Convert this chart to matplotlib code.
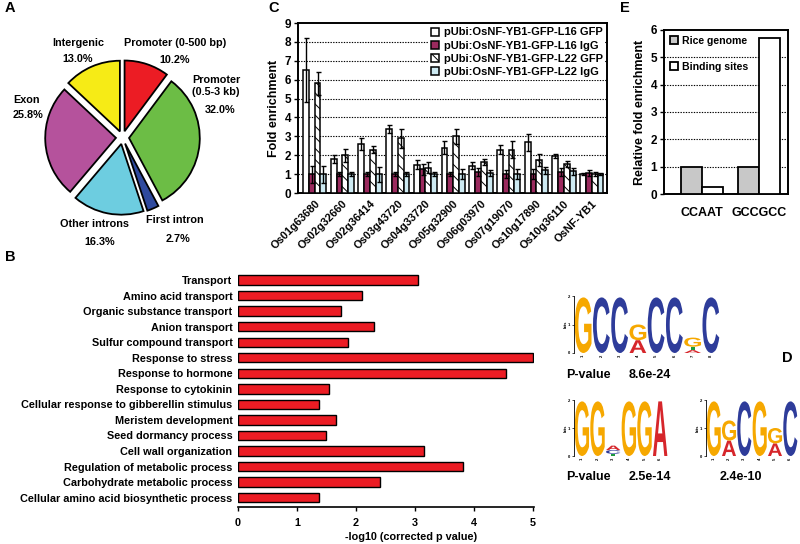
import matplotlib
matplotlib.use('Agg')
import matplotlib.pyplot as plt
import numpy as np
from matplotlib.textpath import TextPath
from matplotlib.patches import PathPatch
from matplotlib.font_manager import FontProperties
from matplotlib.transforms import Affine2D

plt.rcParams['font.family'] = ['Liberation Sans', 'DejaVu Sans']
plt.rcParams['font.weight'] = 'bold'
plt.rcParams['axes.labelweight'] = 'bold'
plt.rcParams['hatch.linewidth'] = 0.7

# ---------------- data ----------------
pie_labels = ['Promoter (0-500 bp)', 'Promoter\n(0.5-3 kb)', 'First intron',
              'Other introns', 'Exon', 'Intergenic']
pie_values = [10.2, 32.0, 2.7, 16.3, 25.8, 13.0]
pie_colors = ['#ec1c24', '#6cbd45', '#2f4a9e', '#6dcde0', '#b5529c', '#f6eb16']

go_terms = ['Transport', 'Amino acid transport', 'Organic substance transport',
            'Anion transport', 'Sulfur compound transport', 'Response to stress',
            'Response to hormone', 'Response to cytokinin',
            'Cellular response to gibberellin stimulus', 'Meristem development',
            'Seed dormancy process', 'Cell wall organization',
            'Regulation of metabolic process', 'Carbohydrate metabolic process',
            'Cellular amino acid biosynthetic process']
go_values = [3.05, 2.11, 1.75, 2.31, 1.86, 5.0, 4.54, 1.55, 1.37, 1.67, 1.5,
             3.15, 3.82, 2.4, 1.37]

genes = ['Os01g63680', 'Os02g32660', 'Os02g36414', 'Os03g43720', 'Os04g33720',
         'Os05g32900', 'Os06g03970', 'Os07g19070', 'Os10g17890', 'Os10g36110',
         'OsNF-YB1']
series_names = ['pUbi:OsNF-YB1-GFP-L16 GFP', 'pUbi:OsNF-YB1-GFP-L16 IgG',
                'pUbi:OsNF-YB1-GFP-L22 GFP', 'pUbi:OsNF-YB1-GFP-L22 IgG']
l16_gfp = [6.5, 1.8, 2.6, 3.4, 1.5, 2.4, 1.45, 2.3, 2.7, 1.95, 1.0]
l16_gfp_err = [1.7, 0.2, 0.3, 0.2, 0.25, 0.35, 0.2, 0.25, 0.45, 0.1, 0.05]
l16_igg = [1.0, 1.0, 1.0, 1.0, 1.25, 1.0, 1.1, 1.0, 1.0, 1.1, 1.05]
l16_igg_err = [0.45, 0.1, 0.1, 0.1, 0.3, 0.1, 0.2, 0.2, 0.25, 0.2, 0.15]
l22_gfp = [5.8, 2.0, 2.3, 2.9, 1.35, 3.0, 1.65, 2.3, 1.75, 1.55, 1.0]
l22_gfp_err = [0.6, 0.35, 0.2, 0.5, 0.3, 0.4, 0.15, 0.45, 0.3, 0.15, 0.1]
l22_igg = [1.0, 1.0, 1.0, 1.0, 1.0, 1.0, 1.05, 1.0, 1.2, 1.15, 1.0]
l22_igg_err = [0.45, 0.1, 0.4, 0.1, 0.1, 0.25, 0.15, 0.25, 0.2, 0.2, 0.05]

motif_labels = ['CCAAT', 'GCCGCC']
rice_genome = [1.0, 1.0]
binding_sites = [0.25, 5.7]

logo1 = [{'G': 1.95}, {'C': 1.95}, {'C': 1.95}, {'A': 0.45, 'G': 0.55},
         {'C': 1.95}, {'C': 1.95}, {'A': 0.1, 'T': 0.12, 'G': 0.32}, {'C': 1.95}]
logo2 = [{'G': 1.95}, {'G': 1.95}, {'T': 0.08, 'C': 0.13, 'A': 0.16},
         {'G': 1.95}, {'G': 1.95}, {'A': 1.95}]
logo3 = [{'G': 1.95}, {'A': 0.55, 'G': 0.72}, {'C': 1.95}, {'G': 1.95},
         {'A': 0.45, 'G': 0.55}, {'C': 1.95}]
pvalues = ['8.6e-24', '2.5e-14', '2.4e-10']

# ---------------- helpers ----------------
W, H = 800, 544
fig = plt.figure(figsize=(W / 100, H / 100), dpi=100)


def rect(x0, y0, x1, y1):
    return [x0 / W, 1 - y1 / H, (x1 - x0) / W, (y1 - y0) / H]


def ftext(x, y, s, **kw):
    fig.text(x / W, 1 - y / H, s, **kw)


BOLD = dict(fontweight='bold')

# panel letters
for lab, (x, y) in zip('ABCDE', [(5, 8), (5, 257), (268, 8), (793, 358), (620, 8)]):
    ftext(x, y, lab, fontsize=10.5, ha='left' if lab != 'D' else 'right',
          va='center', **BOLD)

# ---------------- A: pie ----------------
axA = fig.add_axes(rect(35, 50, 210, 225))
axA.pie(pie_values, colors=pie_colors, startangle=90, counterclock=False,
        explode=[0.09] * len(pie_values), radius=0.97,
        wedgeprops=dict(edgecolor='black', linewidth=1.3))
axA.set_xlim(-1.2, 1.2)
axA.set_ylim(-1.2, 1.2)
axA.set_aspect('equal')
axA.axis('off')

pie_text_pos = [(175, 43, 175, 60), (216, 86, 220, 110), (175, 220, 178, 239),
                (95, 224, 100, 242), (27, 100, 28, 115), (78, 43, 78, 59)]
for lab, val, (lx, ly, vx, vy) in zip(pie_labels, pie_values, pie_text_pos):
    ftext(lx, ly, lab, fontsize=7.8, ha='center', va='center', linespacing=1.15, **BOLD)
    ftext(vx, vy, f'{val:.1f}%', fontsize=7.8, ha='center', va='center', **BOLD)

# ---------------- B: GO barh ----------------
axB = fig.add_axes(rect(238, 271.5, 534, 507))
yB = np.arange(len(go_terms))
axB.barh(yB, go_values, height=0.6, color='#ec1c24', edgecolor='black', linewidth=1.0)
axB.set_ylim(len(go_terms) - 0.4, -0.55)
axB.set_xlim(0, 5.02)
axB.set_yticks(yB)
axB.set_yticklabels(go_terms, fontsize=7.8, fontweight='bold')
axB.tick_params(axis='y', length=0, pad=4)
axB.set_xticks([0, 1, 2, 3, 4, 5])
axB.tick_params(axis='x', direction='out', length=3, width=1.0, labelsize=7.8, pad=5)
for s in ['left', 'top', 'right']:
    axB.spines[s].set_visible(False)
axB.spines['bottom'].set_linewidth(1.2)
ftext(411, 537, '-log10 (corrected p value)', fontsize=7.8, ha='center', va='center', **BOLD)

# ---------------- C: ChIP bars ----------------
axC = fig.add_axes(rect(298, 23, 607, 193))
xC = np.arange(len(genes))
bw = 0.21
offs = [-1.5 * bw, -0.5 * bw, 0.5 * bw, 1.5 * bw]
vals = [l16_gfp, l16_igg, l22_gfp, l22_igg]
errs = [l16_gfp_err, l16_igg_err, l22_gfp_err, l22_igg_err]
fcs = ['white', '#9b2a5e', 'white', '#cdeaf2']
hatches = [None, None, '\\\\\\', None]
for k in range(4):
    axC.bar(xC + offs[k], vals[k], width=bw, color=fcs[k], edgecolor='black',
            linewidth=1.1, hatch=hatches[k], label=series_names[k], zorder=3)
    axC.errorbar(xC + offs[k], vals[k], yerr=errs[k], fmt='none', ecolor='black',
                 elinewidth=1.0, capsize=1.8, capthick=1.0, zorder=4)
axC.set_ylim(0, 9)
axC.set_xlim(-0.6, len(genes) - 0.45)
axC.set_yticks(range(10))
axC.tick_params(axis='y', direction='out', length=3, width=1.0, labelsize=8.5, pad=2)
axC.set_xticks(xC)
axC.set_xticklabels(genes, rotation=45, ha='right', rotation_mode='anchor',
                    fontsize=7.9, fontweight='bold')
axC.tick_params(axis='x', length=0, pad=4)
for yv in range(1, 9):
    axC.axhline(yv, color='black', linestyle=(0, (1.2, 1.2)), linewidth=0.8, zorder=1)
for s in axC.spines.values():
    s.set_linewidth(1.4)
axC.set_ylabel('Fold enrichment', fontsize=9, labelpad=3)
legC = axC.legend(loc='upper right', fontsize=8, frameon=True, framealpha=1,
                  edgecolor='none', borderpad=0.25, borderaxespad=0.15,
                  handlelength=0.75, handleheight=0.75, handletextpad=0.4,
                  labelspacing=0.28, prop=dict(weight='bold', size=8))
legC.set_zorder(5)

# ---------------- E: motif enrichment ----------------
axE = fig.add_axes(rect(664, 30, 788, 194))
xE = np.arange(len(motif_labels))
wE = 0.37
axE.bar(xE - wE / 2, rice_genome, width=wE, color='#c8c8c8', edgecolor='black',
        linewidth=1.3, label='Rice genome', zorder=3)
axE.bar(xE + wE / 2, binding_sites, width=wE, color='white', edgecolor='black',
        linewidth=1.3, label='Binding sites', zorder=3)
axE.set_xlim(-0.667, 1.509)
axE.set_ylim(0, 6)
axE.set_yticks(range(7))
axE.tick_params(axis='y', direction='out', length=3, width=1.0, labelsize=8.5, pad=2)
axE.set_xticks(xE)
axE.set_xticklabels(motif_labels, fontsize=9, fontweight='bold')
axE.tick_params(axis='x', length=0, pad=9)
for yv in range(1, 6):
    axE.axhline(yv, color='black', linestyle=(0, (1.2, 1.2)), linewidth=0.8, zorder=1)
for s in axE.spines.values():
    s.set_linewidth(1.4)
axE.set_ylabel('Relative fold enrichment', fontsize=9, labelpad=3)
legE = axE.legend(loc='upper left', frameon=False, borderaxespad=0.0, borderpad=0.55,
                  handlelength=0.75, handleheight=0.75, handletextpad=0.4,
                  labelspacing=1.5, prop=dict(weight='bold', size=7.6))
legE.set_zorder(5)

# ---------------- D: sequence logos ----------------
letter_colors = {'G': '#f6a800', 'C': '#2e3c9a', 'A': '#d6262b', 'T': '#1d9a3f'}
fp = FontProperties(family='Liberation Sans', weight='bold')


def draw_logo(ax, logo):
    for i, col in enumerate(logo):
        ybase = 0.0
        for ch, hgt in sorted(col.items(), key=lambda t: t[1]):
            tp = TextPath((0, 0), ch, size=1, prop=fp)
            bb = tp.get_extents()
            w = 0.92
            tr = (Affine2D().translate(-bb.x0, -bb.y0)
                  .scale(w / bb.width, hgt / bb.height)
                  .translate(i + 1 - w / 2, ybase))
            ax.add_patch(PathPatch(tr.transform_path(tp), facecolor=letter_colors[ch],
                                   edgecolor='none'))
            ybase += hgt
    ax.set_xlim(0.5, len(logo) + 0.5)
    ax.set_ylim(0, 2)
    ax.set_yticks([0, 1, 2])
    ax.set_xticks(range(1, len(logo) + 1))
    ax.tick_params(axis='both', labelsize=3, length=1.5, width=0.5, pad=1)
    ax.tick_params(axis='x', length=0, labelrotation=90)
    for s in ['top', 'right', 'bottom']:
        ax.spines[s].set_visible(False)
    ax.spines['left'].set_linewidth(0.6)
    ax.set_ylabel('bits', fontsize=3, labelpad=0.5)
    ax.patch.set_visible(False)


ax_l1 = fig.add_axes(rect(574, 296, 720, 353))
draw_logo(ax_l1, logo1)
ax_l2 = fig.add_axes(rect(574, 400, 668, 456))
draw_logo(ax_l2, logo2)
ax_l3 = fig.add_axes(rect(706, 400, 798, 456))
draw_logo(ax_l3, logo3)

ftext(566, 375, 'P-value', fontsize=9, ha='left', va='center', **BOLD)
ftext(650, 375, pvalues[0], fontsize=9, ha='center', va='center', **BOLD)
ftext(566, 477, 'P-value', fontsize=9, ha='left', va='center', **BOLD)
ftext(650, 477, pvalues[1], fontsize=9, ha='center', va='center', **BOLD)
ftext(741, 477, pvalues[2], fontsize=9, ha='center', va='center', **BOLD)

fig.savefig('out.png', dpi=100)
